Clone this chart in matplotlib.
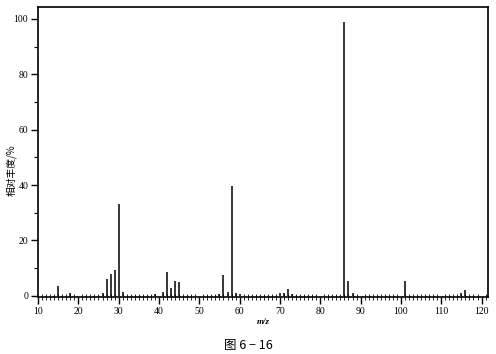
import matplotlib
matplotlib.use("Agg")
import matplotlib.pyplot as plt
from matplotlib.ticker import MultipleLocator

mz = [15, 18, 26, 27, 28, 29, 30, 31, 39, 41, 42, 43, 44, 45,
      55, 56, 57, 58, 59, 60, 70, 71, 72, 73, 86, 87, 88, 101, 115, 116]
abbondanza = [3.5, 1.0, 1.0, 6.0, 8.0, 9.5, 33.0, 1.5, 0.6, 1.5, 8.5, 3.0, 5.5, 5.0,
              0.6, 7.5, 1.5, 39.5, 1.2, 0.6, 1.0, 1.0, 2.5, 0.6, 99.0, 5.5, 1.2, 5.5, 1.2, 2.2]

x_ticks = [10, 20, 30, 40, 50, 60, 70, 80, 90, 100, 110, 120]
y_ticks = [0, 20, 40, 60, 80, 100]

plt.rcParams['font.family'] = ['Liberation Serif', 'Noto Sans CJK SC']

fig = plt.figure(figsize=(4.96, 3.54), dpi=100)
ax = fig.add_axes([38 / 496, 1 - 297 / 354, (488 - 38) / 496, (297 - 7) / 354])

ax.vlines(mz, 0, abbondanza, colors='black', linewidth=1.1)

ax.set_xlim(10, 121.6)
ax.set_ylim(-0.4, 104.3)
ax.set_xticks(x_ticks)
ax.set_yticks(y_ticks)
ax.xaxis.set_minor_locator(MultipleLocator(1))
ax.yaxis.set_minor_locator(MultipleLocator(10))
ax.tick_params(axis='x', which='major', direction='out', length=5, width=1,
               labelsize=7, pad=2)
ax.tick_params(axis='x', which='minor', direction='inout', length=4, width=0.6)
ax.tick_params(axis='y', which='major', direction='out', length=5, width=1,
               labelsize=7, pad=2)
ax.tick_params(axis='y', which='minor', direction='out', length=3, width=0.8)

for s in ax.spines.values():
    s.set_linewidth(1.2)

ax.set_xlabel("m/z", fontsize=6.5, style='italic', fontweight='bold', labelpad=2)

# etichetta asse y posizionata a mano per non uscire dal bordo
fig.text(11 / 496, 1 - 170 / 354, "相对丰度/%", rotation=90, ha='center', va='center',
         fontsize=7, family=['Noto Sans CJK SC', 'DejaVu Sans'])

fig.text(248 / 496, 1 - 345 / 354, "图 6 − 16", ha='center', va='center',
         fontsize=9, family=['Noto Sans CJK SC', 'DejaVu Sans'])

fig.savefig("out.png", dpi=100)
